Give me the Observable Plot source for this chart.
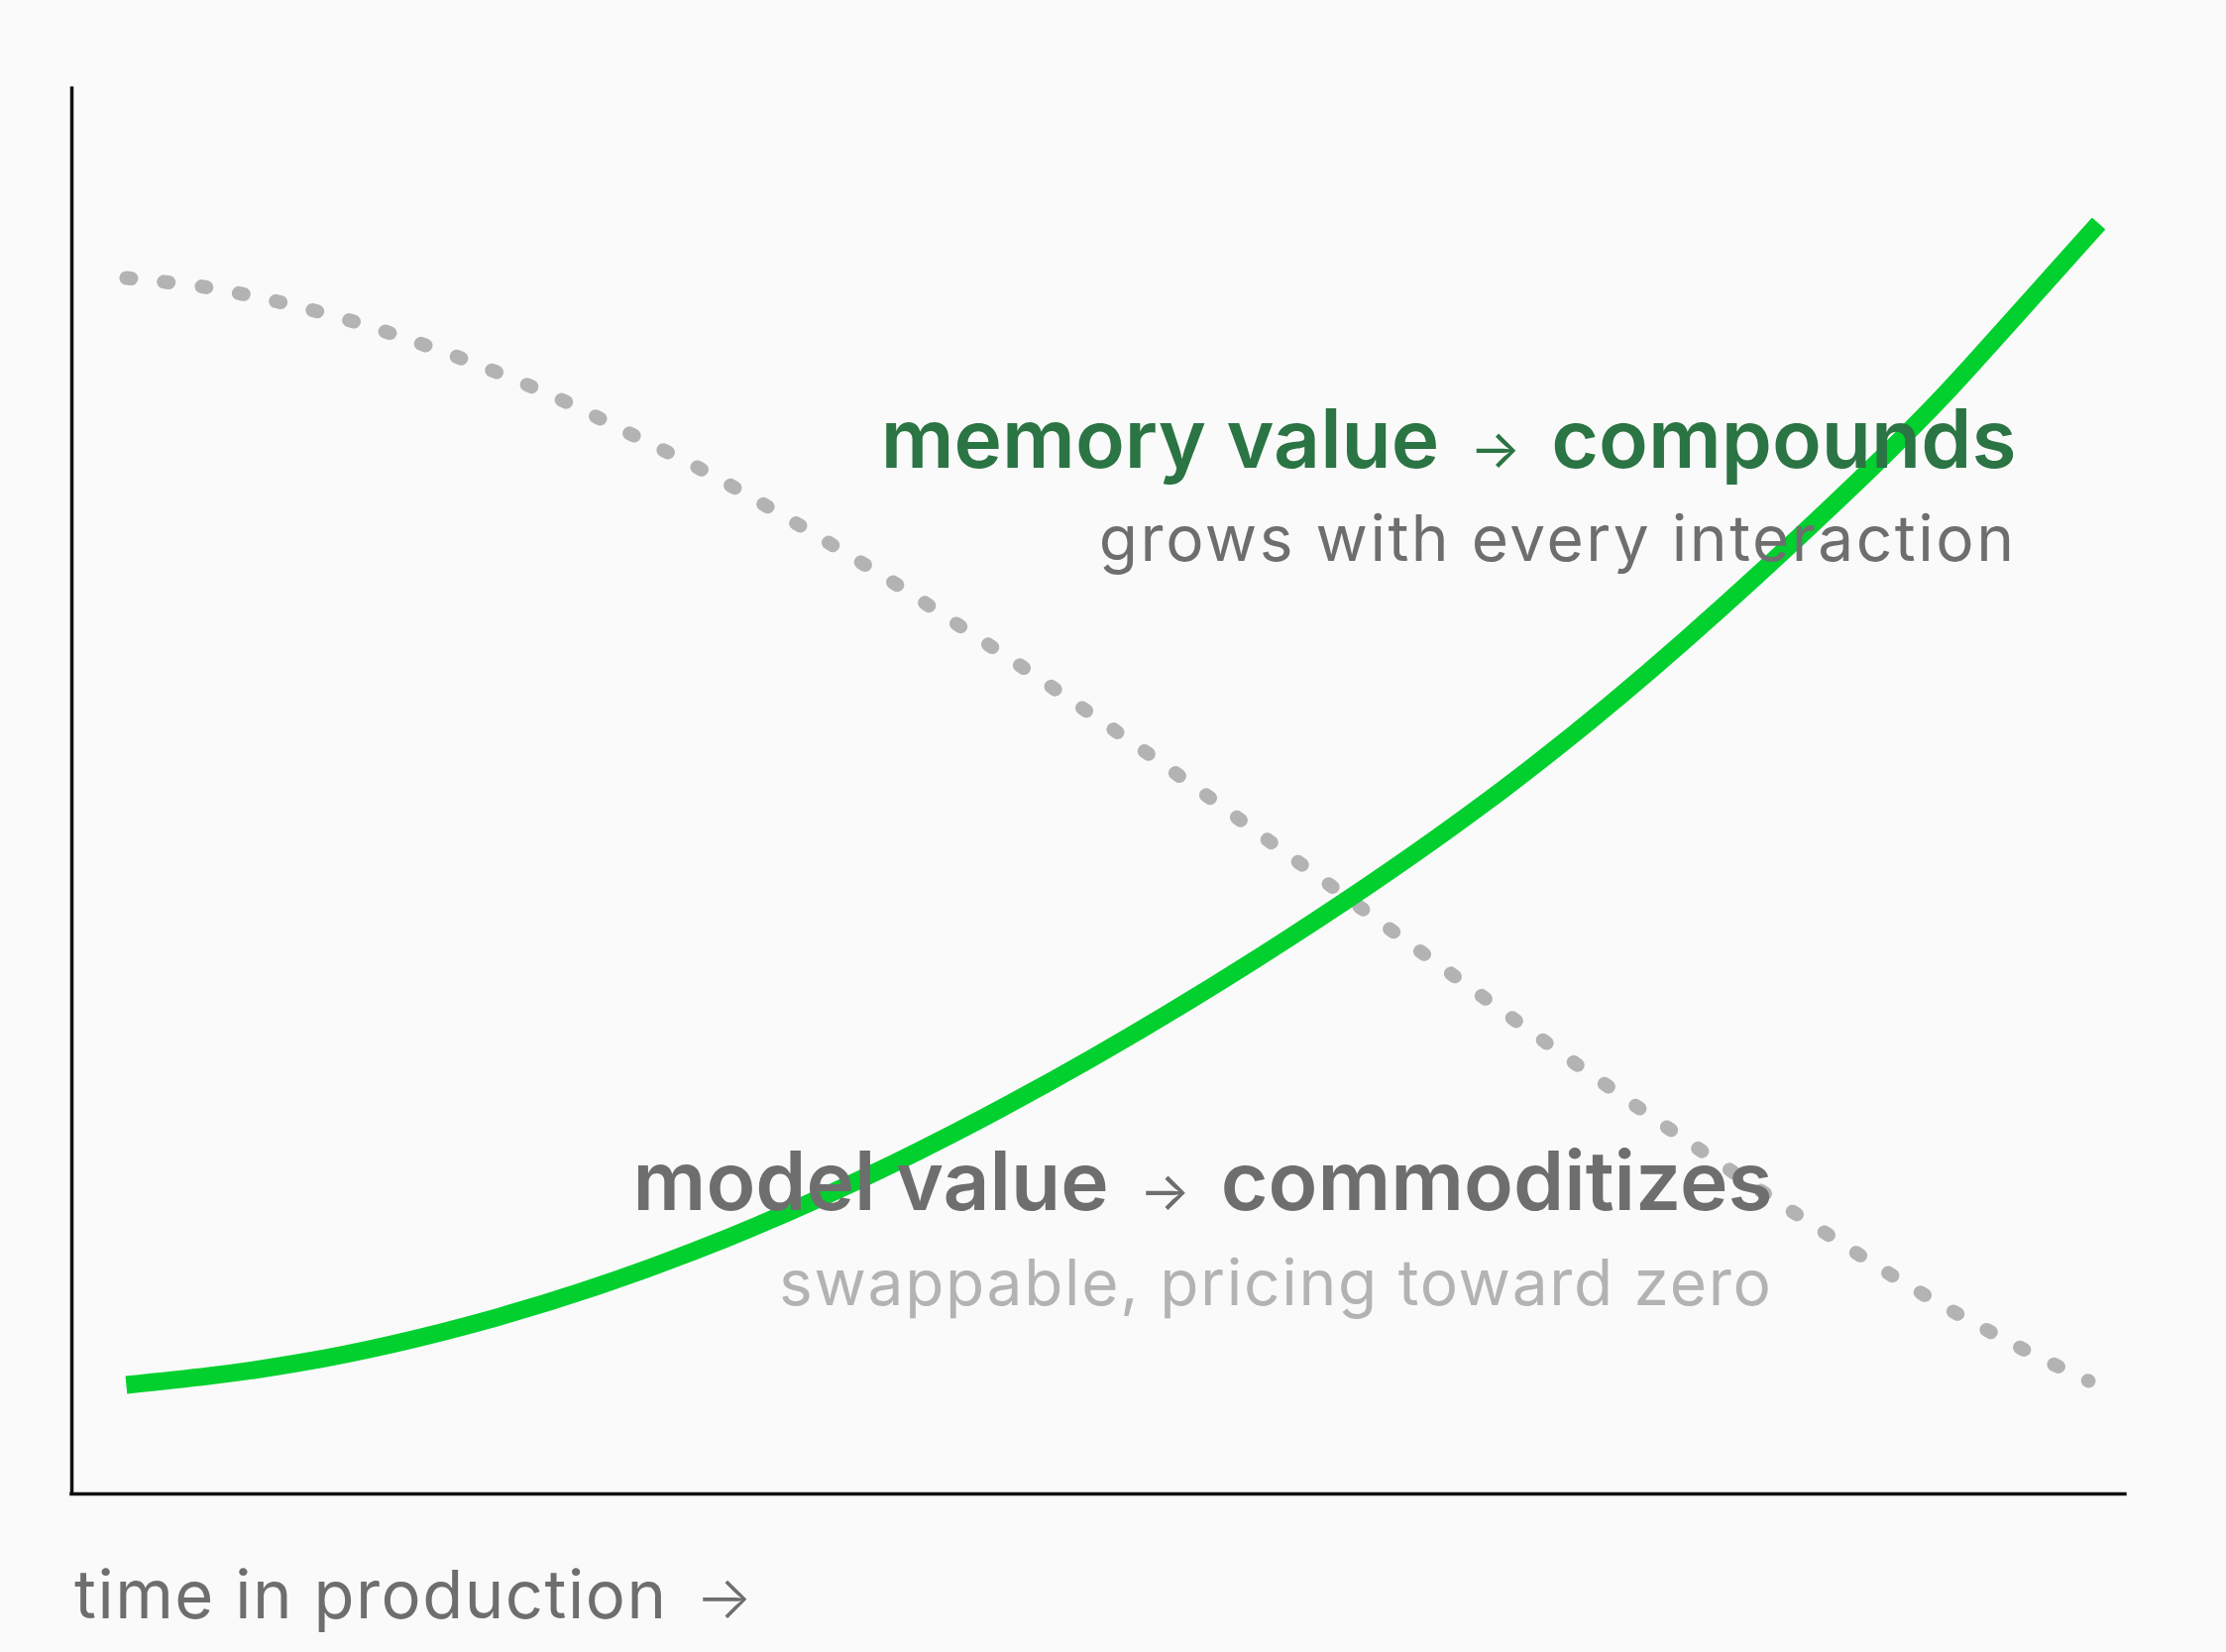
<!DOCTYPE html>
<html>
<head>
<meta charset="utf-8">
<script src="https://cdn.jsdelivr.net/npm/d3@7"></script>
<script src="https://cdn.jsdelivr.net/npm/@observablehq/plot@0.6"></script>
<style>
  html, body { margin: 0; padding: 0; background: #fafafa; }
  #chart svg { display: block; }
</style>
</head>
<body>
<div id="chart"></div>
<script>
// Memory value (green, compounding) — x: time in production, y: value
const memoryX = [2.65, 11.00, 20.66, 30.31, 39.96, 49.61, 59.27, 68.92, 78.57, 88.22, 93.29, 98.70];
const memoryY = [7.76, 9.31, 12.55, 17.28, 23.48, 30.96, 39.56, 49.29, 60.78, 73.84, 81.59, 90.41];

// Model value (grey dotted, commoditizing)
const modelX = [2.65, 6.42, 10.04, 13.56, 17.08, 20.56, 23.94, 27.17, 30.55, 33.74, 36.92, 40.06, 43.15, 46.24, 49.28, 52.27, 55.31, 58.30, 61.29, 64.24, 67.23, 70.22, 73.17, 78.81, 85.04, 90.11, 94.93, 98.21];
const modelY = [86.53, 85.90, 84.84, 83.50, 81.81, 79.90, 77.79, 75.46, 72.99, 70.38, 67.63, 64.81, 61.85, 58.89, 55.85, 52.82, 49.65, 46.47, 43.30, 40.13, 36.95, 33.78, 30.68, 24.96, 18.90, 14.25, 10.37, 8.04];

// Annotation texts
const memoryTitle = "memory value → compounds";
const memorySub = "grows with every interaction";
const modelTitle = "model value → commoditizes";
const modelSub = "swappable, pricing toward zero";
const xLabel = "time in production →";

const memory = memoryX.map((x, i) => ({x, y: memoryY[i]}));
const model = modelX.map((x, i) => ({x, y: modelY[i]}));

const chart = Plot.plot({
  width: 2246,
  height: 1667,
  marginLeft: 72,
  marginRight: 102,
  marginTop: 89,
  marginBottom: 160,
  x: {domain: [0, 100], axis: null},
  y: {domain: [0, 100], axis: null},
  style: {background: "#fafafa", fontFamily: "Inter, 'Noto Sans', sans-serif", overflow: "visible"},
  marks: [
    Plot.ruleX([0], {stroke: "#111", strokeWidth: 3.5, strokeLinecap: "square"}),
    Plot.ruleY([0], {stroke: "#111", strokeWidth: 3.5, strokeLinecap: "square"}),
    Plot.line(model, {x: "x", y: "y", curve: "catmull-rom", stroke: "#b3b3b3", strokeWidth: 14, strokeLinecap: "round", strokeDasharray: "5,33.2"}),
    Plot.line(memory, {x: "x", y: "y", curve: "natural", stroke: "#02d02f", strokeWidth: 18, strokeLinecap: "butt"}),
    Plot.text([memoryTitle], {x: 94.69, y: 73.06, text: d => d, textAnchor: "end", lineAnchor: "bottom", fontSize: 82, fontWeight: 600, fill: "#2b7443"}),
    Plot.text([memorySub], {x: 94.69, y: 66.43, text: d => d, textAnchor: "end", lineAnchor: "bottom", fontSize: 64, fontWeight: 400, fill: "#6e6e6e"}),
    Plot.text([modelTitle], {x: 82.82, y: 20.17, text: d => d, textAnchor: "end", lineAnchor: "bottom", fontSize: 82, fontWeight: 600, fill: "#6e6e6e"}),
    Plot.text([modelSub], {x: 82.82, y: 13.40, text: d => d, textAnchor: "end", lineAnchor: "bottom", fontSize: 64, fontWeight: 400, fill: "#b3b3b3"}),
    Plot.text([xLabel], {x: 0.12, y: -8.82, text: d => d, textAnchor: "start", lineAnchor: "bottom", fontSize: 67, fontWeight: 400, fill: "#6e6e6e"})
  ]
});

// typographic touches: wider tracking for the light lines, thin small arrows
d3.select(chart).selectAll("text").each(function () {
  const t = this.textContent;
  if (t === memorySub) this.setAttribute("letter-spacing", "2.5");
  if (t === modelSub) this.setAttribute("letter-spacing", "1.7");
  if (t === xLabel) this.setAttribute("letter-spacing", "1.5");
  if (t.includes("→")) {
    const isLabel = t === xLabel;
    const parts = t.split("→");
    this.textContent = "";
    const sel = d3.select(this);
    sel.append("tspan").text(parts[0]);
    sel.append("tspan").attr("font-size", isLabel ? "0.9em" : "0.66em").attr("font-weight", isLabel ? 300 : 400).attr("dx", isLabel ? 8 : 10).text("→");
    sel.append("tspan").attr("dx", isLabel ? 0 : 10).text(parts[1]);
  }
});

document.getElementById("chart").appendChild(chart);
</script>
</body>
</html>
